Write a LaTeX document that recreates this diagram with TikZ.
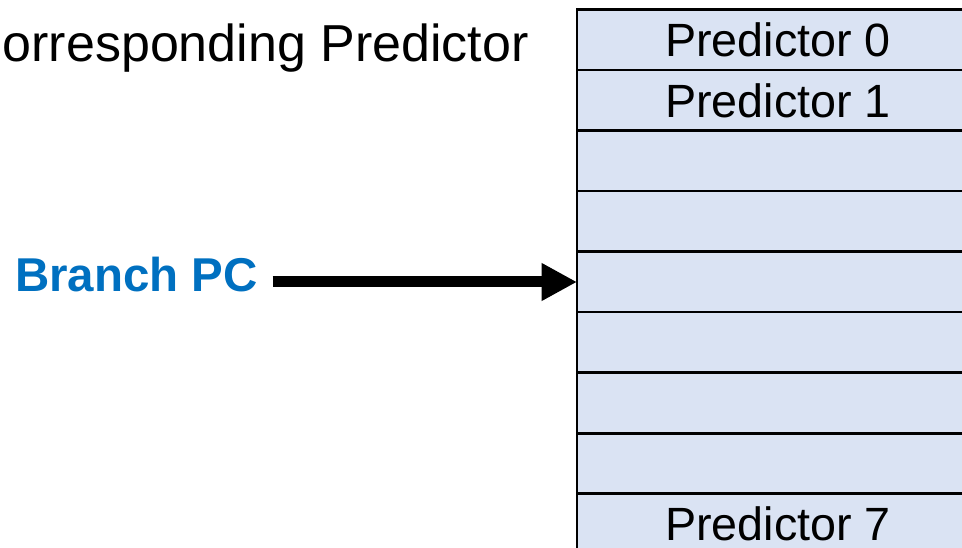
\documentclass[tikz,border=0pt]{standalone}
\usepackage{fontspec}
\setmainfont{Liberation Sans}
\usepackage{tikz}
\usetikzlibrary{arrows.meta,shapes}
\definecolor{slotfill}{HTML}{DAE3F3}
\definecolor{pcblue}{HTML}{0070C0}

\begin{document}
\begin{tikzpicture}[x=0.75pt,y=-0.75pt,
        slot/.style={rectangle,draw=black,line width=1.9pt,fill=slotfill,
                     minimum width=301.5pt,minimum height=45.4pt,inner sep=0pt,outer sep=0pt,
                     font=\fontsize{35}{40}\selectfont},
        bigarrow/.style={line width=8.25pt,-{Triangle[length=26.5pt,width=26.5pt]}}]
        \useasboundingbox (0,0) rectangle (962,548);
        \clip (0,0) rectangle (962,548);
        % predictor table
        \foreach \i/\txt in {0/Predictor 0,1/Predictor 1,2/,3/,4/,5/,6/,7/,8/Predictor 7}
            \node[slot] (r\i) at (778,{40+60.5*\i}) {\txt};
        % heading line, cut at the left edge
        \node[anchor=base east,inner sep=0pt,font=\fontsize{39}{44}\selectfont] (head) at (529,62) {orresponding Predictor};
        % branch pc
        \node[anchor=base east,inner sep=0pt,text=pcblue,font=\fontsize{35.6}{40}\selectfont\bfseries] (pc) at (258,292) {Branch PC};
        \draw[bigarrow] (pc.east |- r4.west) ++(14.5,0) -- (r4.west);
\end{tikzpicture}
\end{document}
